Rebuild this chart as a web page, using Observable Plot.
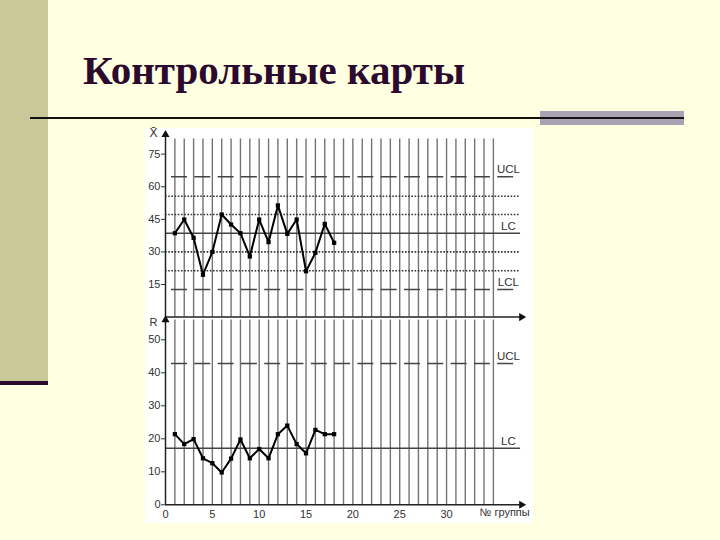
<!DOCTYPE html>
<html><head><meta charset="utf-8">
<script src="https://cdn.jsdelivr.net/npm/d3@7"></script>
<script src="https://cdn.jsdelivr.net/npm/@observablehq/plot@0.6"></script>
<style>
html,body{margin:0;padding:0;background:#FFFFE1;width:720px;height:540px;overflow:hidden;position:relative}
#band{position:absolute;left:0;top:0;width:48px;height:381px;background:#C8C899}
#bandline{position:absolute;left:0;top:381px;width:48px;height:4px;background:#2B0A2E}
#title{position:absolute;left:83px;top:50px;font-family:"Liberation Serif",serif;font-weight:bold;font-size:41px;line-height:41px;color:#2B0A2E;white-space:nowrap}
#rule{position:absolute;left:30px;top:117px;width:654px;height:2px;background:#111}
#greybar{position:absolute;left:540px;top:111px;width:144px;height:14px;background:#A9A2B3}
#box{position:absolute;left:145px;top:128px;width:388px;height:395px;background:#fff}
svg.p{position:absolute;left:0;top:0}
</style></head><body>
<div id="band"></div><div id="bandline"></div>
<div id="title">Контрольные карты</div>
<div id="greybar"></div><div id="rule"></div>
<div id="box"></div>
<script>
// data
const groups = [1,2,3,4,5,6,7,8,9,10,11,12,13,14,15,16,17,18];
const xbarValues = [38.6,44.9,36.5,19.5,30.0,47.2,42.6,38.6,27.9,44.9,34.5,51.4,38.3,44.9,21.1,29.6,42.9,34.2];
const rangeValues = [21.4,18.4,19.9,14.1,12.6,9.8,14.0,19.8,14.1,16.9,14.1,21.4,24.0,18.4,15.6,22.7,21.4,21.4];
const gridGroups = d3.range(1, 36);
const xbarUCL = 64.6, xbarLC = 38.6, xbarLCL = 12.7;
const xbarSigmaLines = [55.6, 47.2, 30.0, 21.3];
const rUCL = 42.8, rLC = 17.1;
const xbarTicks = [15,30,45,60,75];
const rTicks = [0,10,20,30,40,50];
const groupTicks = [0,5,10,15,20,25,30];

const xbarData = groups.map((g,i)=>({g, v: xbarValues[i]}));
const rData = groups.map((g,i)=>({g, v: rangeValues[i]}));

const common = {
  width: 720, height: 540,
  marginLeft: 165, marginRight: 199,
  x: {domain: [0, 38], axis: null},
  style: {background: "transparent", fontFamily: "Liberation Sans, Arial, sans-serif", fontSize: "11px", color: "#333", overflow: "visible"}
};
const gridColor = "#747474";
const refColor = "#444";
const dash = {strokeDasharray: "16,7.3", strokeDashoffset: 17.3};

const p1 = Plot.plot({
  ...common,
  marginTop: 134.1, marginBottom: 223.4,
  y: {domain: [0, 84], axis: null},
  marks: [
    Plot.ruleX(gridGroups, {x: d=>d, y1: 0, y2: 82, stroke: gridColor, strokeWidth: 1.4}),
    Plot.ruleY([xbarUCL, xbarLCL], {y: d=>d, x1: 0, x2: 37.8, stroke: refColor, strokeWidth: 1.4, ...dash}),
    Plot.ruleY(xbarSigmaLines, {y: d=>d, x1: 0, x2: 37.9, stroke: "#333", strokeWidth: 1.6, strokeDasharray: "1.6,1.6"}),
    Plot.ruleY([xbarLC], {y: d=>d, x1: 0, x2: 37.9, stroke: refColor, strokeWidth: 1.5}),
    Plot.ruleY([0], {x1: 0, x2: 38, stroke: "#222", strokeWidth: 1.5}),
    Plot.ruleX([0], {y1: 0, y2: 84, stroke: "#222", strokeWidth: 1.5}),
    Plot.dot([{x: 38, y: 0}], {x: "x", y: "y", symbol: "triangle", r: 3, fill: "#111", rotate: 90}),
    Plot.dot([{x: 0, y: 84}], {x: "x", y: "y", symbol: "triangle", r: 3, fill: "#111"}),
    Plot.axisY({ticks: xbarTicks, tickSize: 4, tickPadding: 1, fontSize: 11}),
    Plot.text([{t: "UCL", y: xbarUCL}, {t: "LC", y: xbarLC}, {t: "LCL", y: xbarLCL}], {x: 36.6, y: "y", text: "t", dy: -7, fill: "#333", fontSize: 11.5}),
    Plot.text(["X\u0304"], {x: 0, y: 84, text: d=>d, dx: -12, dy: -1, fill: "#333", fontSize: 12}),
    Plot.line(xbarData, {x: "g", y: "v", stroke: "#000", strokeWidth: 2}),
    Plot.dot(xbarData, {x: "g", y: "v", symbol: "square", r: 2.4, fill: "#000"})
  ]
});
p1.classList.add("p");
document.body.appendChild(p1);

const p2 = Plot.plot({
  ...common,
  marginTop: 319.5, marginBottom: 35.7,
  y: {domain: [0, 56], axis: null},
  marks: [
    Plot.ruleX(gridGroups, {x: d=>d, y1: 0, y2: 56, stroke: gridColor, strokeWidth: 1.4}),
    Plot.ruleY([rUCL], {y: d=>d, x1: 0, x2: 37.8, stroke: refColor, strokeWidth: 1.4, ...dash}),
    Plot.ruleY([rLC], {y: d=>d, x1: 0, x2: 37.9, stroke: refColor, strokeWidth: 1.5}),
    Plot.ruleY([0], {x1: 0, x2: 38, stroke: "#222", strokeWidth: 1.5}),
    Plot.ruleX([0], {y1: 0, y2: 56, stroke: "#222", strokeWidth: 1.5}),
    Plot.dot([{x: 38, y: 0}], {x: "x", y: "y", symbol: "triangle", r: 3, fill: "#111", rotate: 90}),
    Plot.dot([{x: 0, y: 56}], {x: "x", y: "y", symbol: "triangle", r: 3, fill: "#111"}),
    Plot.axisY({ticks: rTicks, tickSize: 4, tickPadding: 1, fontSize: 11}),
    Plot.axisX({ticks: groupTicks, tickSize: 0, tickPadding: 5, fontSize: 11}),
    Plot.text([{t: "UCL", y: rUCL}, {t: "LC", y: rLC}], {x: 36.6, y: "y", text: "t", dy: -7, fill: "#333", fontSize: 11.5}),
    Plot.text(["R"], {x: 0, y: 56, text: d=>d, dx: -12, dy: 2, fill: "#333", fontSize: 11}),
    Plot.text(["№ группы"], {x: 36.2, y: 0, text: d=>d, dy: 8, fill: "#333", fontSize: 11}),
    Plot.line(rData, {x: "g", y: "v", stroke: "#000", strokeWidth: 2}),
    Plot.dot(rData, {x: "g", y: "v", symbol: "square", r: 2.4, fill: "#000"})
  ]
});
p2.classList.add("p");
document.body.appendChild(p2);
</script>
</body></html>
